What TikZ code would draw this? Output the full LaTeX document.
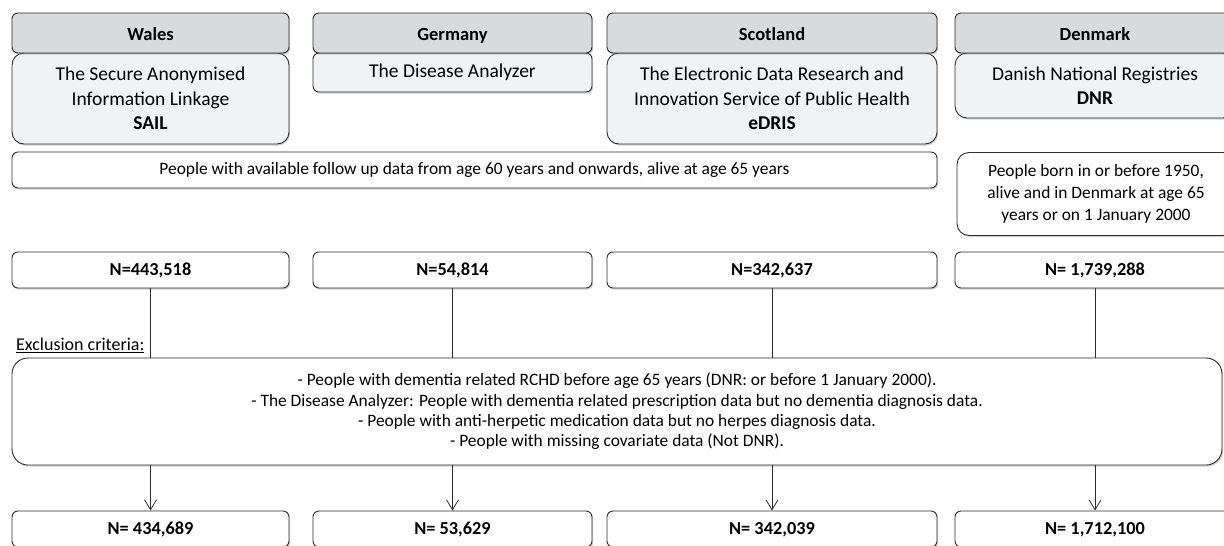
\documentclass[tikz,border=0pt]{standalone}
\usepackage{fontspec}
\setmainfont{Carlito}
\usetikzlibrary{positioning,arrows.meta,shadows}
\definecolor{HeadGray}{RGB}{217,218,220}
\definecolor{SubGray}{RGB}{241,242,243}
\definecolor{Edge}{RGB}{45,45,45}

\begin{document}
\begin{tikzpicture}[x=1pt,y=-1pt,
  box/.style={draw=Edge,line width=.9pt,rounded corners=6pt,fill=white,align=center,inner sep=0pt,
    font=\fontsize{17.4}{22}\selectfont,drop shadow={shadow xshift=1.2pt,shadow yshift=-1.6pt,opacity=.35}},
  head/.style={box,fill=HeadGray,minimum height=40,text height=16pt,text depth=1.3pt,font=\fontsize{18.5}{22}\selectfont\bfseries},
  sub/.style={box,fill=SubGray,rounded corners=12pt,font=\fontsize{19.5}{24.5}\selectfont},
  num/.style={box,minimum height=36,text height=13pt,text depth=1.4pt,font=\fontsize{18.3}{22}\selectfont\bfseries},
  link/.style={draw=Edge,line width=.8pt}]
\useasboundingbox (0,0) rectangle (1224,546);
\clip (0,0) rectangle (1224,546);

\node[sub,minimum width=277,minimum height=91] (sW) at (150.5,98.5) {The Secure Anonymised\\Information Linkage\\\textbf{SAIL}};
\node[sub,minimum width=279,minimum height=39,rounded corners=6pt] (sG) at (452.5,72.5) {The Disease Analyzer};
\node[sub,minimum width=330,minimum height=91] (sS) at (772,98.5) {The Electronic Data Research and\\Innovation Service of Public Health\\\textbf{eDRIS}};
\node[sub,minimum width=280,minimum height=65] (sD) at (1095,85.5) {Danish National Registries\\\textbf{DNR}};

\node[head,minimum width=277] (hW) at (150.5,33) {Wales};
\node[head,minimum width=279] (hG) at (452.5,33) {Germany};
\node[head,minimum width=330] (hS) at (772,33) {Scotland};
\node[head,minimum width=280] (hD) at (1095,33) {Denmark};

\node[box,minimum width=925,minimum height=36] (pop) at (474.5,170) {People with available follow up data from age 60 years and onwards, alive at age 65 years};
\node[box,minimum width=278,minimum height=83,rounded corners=12pt] (popD) at (1096,194) {People born in or before 1950,\\alive and in Denmark at age 65\\years or on 1 January 2000};

\node[box,minimum width=1210,minimum height=107,rounded corners=16pt,font=\fontsize{17.4}{20.3}\selectfont] (excl) at (617,411.5) {- People with dementia related RCHD before age 65 years (DNR: or before 1 January 2000).\\- The Disease Analyzer: People with dementia related prescription data but no dementia diagnosis data.\\- People with anti-herpetic medication data but no herpes diagnosis data.\\- People with missing covariate data (Not DNR).};
\node[anchor=west,inner sep=0pt,font=\fontsize{18}{22}\selectfont] (exLab) at (16,345) {\underline{Exclusion criteria:}};

\foreach \c/\x/\w/\na/\nb in {W/150.5/277/{N=443,518}/{N= 434,689},
                              G/452.5/279/{N=54,814}/{N= 53,629},
                              S/772/330/{N=342,637}/{N= 342,039},
                              D/1095/280/{N= 1,739,288}/{N= 1,712,100}}{
  \node[num,minimum width=\w] (n\c) at (\x,270) {\na};
  \node[num,minimum width=\w] (f\c) at (\x,529) {\nb};
  \draw[link] (n\c) -- (n\c |- excl.north);
  \draw[link,-{Straight Barb[length=10pt,width=12pt]}] (f\c |- excl.south) -- (f\c);
}
\end{tikzpicture}
\end{document}
